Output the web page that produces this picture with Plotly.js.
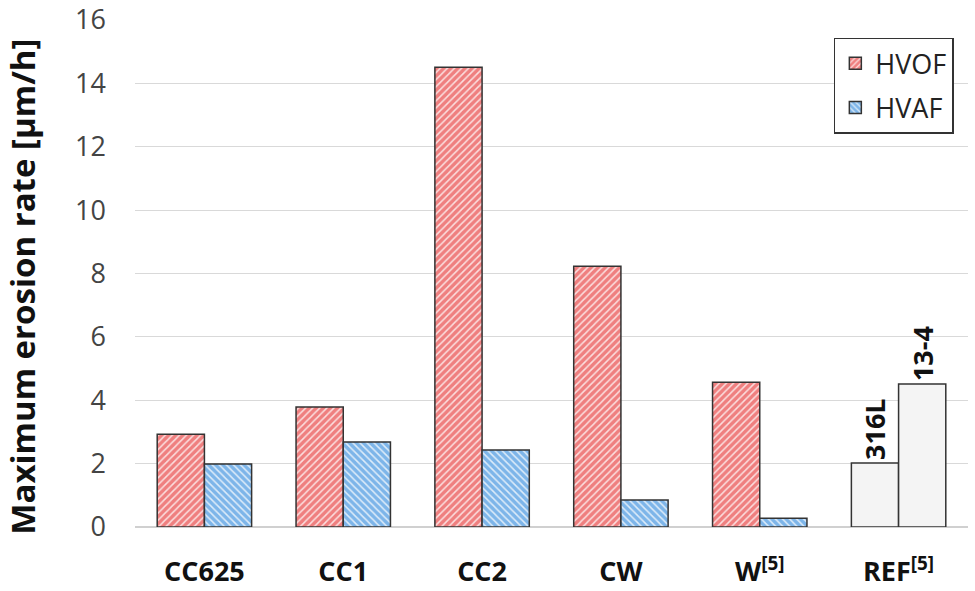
<!DOCTYPE html>
<html>
<head>
<meta charset="utf-8">
<script src="https://cdn.plot.ly/plotly-3.0.1.min.js"></script>
<style>html,body{margin:0;padding:0;background:#fff;}#chart{width:975px;height:591px;}</style>
</head>
<body>
<div id="chart"></div>
<script>
const categories = ['CC625', 'CC1', 'CC2', 'CW', 'W<sup>[5]</sup>', 'REF<sup>[5]</sup>'];
const coatingCategories = ['CC625', 'CC1', 'CC2', 'CW', 'W<sup>[5]</sup>'];
const hvofValues = [2.93, 3.79, 14.51, 8.23, 4.57];
const hvafValues = [1.99, 2.68, 2.43, 0.85, 0.28];
const refCategory = ['REF<sup>[5]</sup>'];
const refLabels = ['316L', '13-4'];
const refValues = [2.02, 4.51];
const yTicks = [0, 2, 4, 6, 8, 10, 12, 14, 16];
const yTitle = 'Maximum erosion rate [μm/h]';

const red = '#ef7f7f', blue = '#7db5e9', grey = '#f4f4f4';
const FONT = '"Open Sans", sans-serif';
const outline = {color: '#333', width: 1.5};

function hatched(color, shape) {
  return {color: color, line: outline,
    pattern: {shape: shape, fillmode: 'overlay', fgcolor: '#ffffff', fgopacity: 0.75, size: 5, solidity: 0.3}};
}

const hvof = {
  type: 'bar', name: 'HVOF', legendgroup: 'a', offsetgroup: 'a',
  x: coatingCategories, y: hvofValues, marker: hatched(red, '/')
};
const hvaf = {
  type: 'bar', name: 'HVAF', legendgroup: 'b', offsetgroup: 'b',
  x: coatingCategories, y: hvafValues, marker: hatched(blue, '\\')
};
const refTraces = refLabels.map((lab, i) => ({
  type: 'bar', name: lab, showlegend: false, offsetgroup: i === 0 ? 'a' : 'b',
  x: refCategory, y: [refValues[i]], text: [lab],
  textposition: 'outside', textangle: -90, cliponaxis: false, constraintext: 'none',
  textfont: {family: FONT, size: 27, color: '#111', weight: 'bold'},
  marker: {color: grey, line: outline}
}));

const layout = {
  width: 975, height: 591,
  margin: {l: 135, r: 7, t: 20, b: 64},
  paper_bgcolor: '#fff', plot_bgcolor: '#fff',
  barmode: 'group', bargap: 0.32, bargroupgap: 0,
  font: {family: FONT, color: '#222'},
  showlegend: true,
  legend: {
    x: 0.983, y: 0.965, xanchor: 'right', yanchor: 'top',
    bordercolor: '#333', borderwidth: 1.5, bgcolor: '#fff',
    font: {size: 27, color: '#222'}, tracegroupgap: 6, itemwidth: 30
  },
  xaxis: {
    categoryorder: 'array', categoryarray: categories,
    tickfont: {family: FONT, size: 27, color: '#111', weight: 'bold'},
    showline: false, ticks: '', showgrid: false, ticklabelstandoff: 26
  },
  yaxis: {
    range: [0, 16], tickvals: yTicks, ticktext: yTicks.map(String),
    tickfont: {family: FONT, size: 27, color: '#444'},
    gridcolor: '#d9d9d9', gridwidth: 1.2, zeroline: true, zerolinecolor: '#d0d0d0', zerolinewidth: 1.5,
    showline: false, ticks: '', ticklabelstandoff: 28
  },
  annotations: [{
    text: yTitle, textangle: -90, showarrow: false,
    xref: 'paper', yref: 'paper', x: -0.1345, y: 0.474, xanchor: 'center', yanchor: 'middle',
    font: {family: FONT, size: 33, color: '#111', weight: 'bold'}
  }]
};

Plotly.newPlot('chart', [hvof, hvaf, ...refTraces], layout, {displayModeBar: false, staticPlot: true});
</script>
</body>
</html>
